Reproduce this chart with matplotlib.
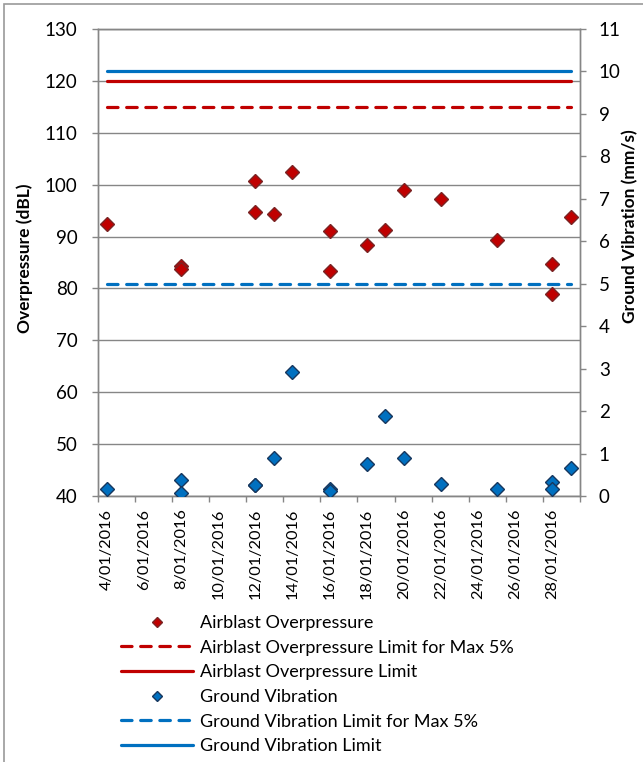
import matplotlib.pyplot as plt
from matplotlib.patches import Rectangle
from matplotlib.ticker import FixedLocator

plt.rcParams['font.family'] = ['Lato', 'DejaVu Sans']

# day of January 2016 for each blast
ab_days = [4, 8, 8, 12, 12, 13, 14, 16, 16, 18, 19, 20, 22, 25, 28, 28, 29]
ab_dbl = [92.5, 84.4, 83.7, 100.7, 94.7, 94.3, 102.4, 91.0, 83.4, 88.4,
          91.3, 99.0, 97.2, 89.3, 84.8, 79.0, 93.7]
gv_days = [4, 8, 8, 12, 12, 13, 14, 16, 16, 18, 19, 20, 22, 25, 28, 28, 29]
gv_mms = [0.16, 0.38, 0.08, 0.27, 0.26, 0.89, 2.93, 0.16, 0.12, 0.75,
          1.88, 0.90, 0.28, 0.17, 0.34, 0.16, 0.66]

limit_days = [4, 29]
ab_limit = [120, 120]
ab_limit5 = [115, 115]
gv_limit = [10, 10]
gv_limit5 = [5, 5]

label_days = list(range(4, 29, 2))
tick_labels = [str(d) + "/01/2016" for d in label_days]

red = '#C00000'
blue = '#0070C0'
grey = '#868686'

fig = plt.figure(figsize=(6.43, 7.62), dpi=100)
ax = fig.add_axes([97.7/643, 1 - 496/762, (580 - 97.7)/643, (496 - 29)/762])
ax2 = ax.twinx()

dash = (3.3, 2.7)
l1, = ax.plot(ab_days, ab_dbl, 'D', ms=6.8, mfc=red, mec='#7a2424', mew=1,
              label='Airblast Overpressure', zorder=3)
l2, = ax.plot(limit_days, ab_limit5, color=red, lw=2.3, dashes=dash,
              dash_capstyle='round', label='Airblast Overpressure Limit for Max 5%')
l3, = ax.plot(limit_days, ab_limit, color=red, lw=2.3, solid_capstyle='round',
              label='Airblast Overpressure Limit')
l4, = ax2.plot(gv_days, gv_mms, 'D', ms=6.8, mfc=blue, mec='#17375e', mew=1,
               label='Ground Vibration', zorder=3)
l5, = ax2.plot(limit_days, gv_limit5, color=blue, lw=2.3, dashes=dash,
               dash_capstyle='round', label='Ground Vibration Limit for Max 5%')
l6, = ax2.plot(limit_days, gv_limit, color=blue, lw=2.3, solid_capstyle='round',
               label='Ground Vibration Limit')

ax.set_xlim(3.5, 29.5)
ax.set_ylim(40, 130)
ax2.set_ylim(0, 11)
ax.set_yticks(range(40, 131, 10))
ax2.set_yticks(range(0, 12))

ax.set_xticks(label_days)
ax.set_xticklabels(tick_labels, rotation=90)
ax.xaxis.set_minor_locator(FixedLocator([d + 0.5 for d in range(3, 30, 2)]))
ax.tick_params(axis='x', which='major', length=0, pad=9, labelsize=11.8)
ax.tick_params(axis='x', which='minor', length=4.5, width=1, color=grey,
               direction='out')
ax.tick_params(axis='y', length=4.5, width=1, color=grey, pad=10, labelsize=13.5)
ax2.tick_params(axis='y', length=4.5, width=1, color=grey, pad=9, labelsize=13.5)
for a in (ax, ax2):
    for s in a.spines.values():
        s.set_color(grey)
        s.set_linewidth(1)

ax.grid(axis='y', color=grey, lw=1)
ax.set_axisbelow(True)

fig.text(25/643, 1 - 258/762, 'Overpressure (dBL)', rotation=90, ha='center',
         va='center', fontsize=12.5, fontweight='bold')
fig.text(630/643, 1 - 226/762, 'Ground Vibration (mm/s)', rotation=90,
         ha='center', va='center', fontsize=12.5, fontweight='bold')

fig.legend(handles=[l1, l2, l3, l4, l5, l6], loc='upper left',
           bbox_to_anchor=(121/643, 1 - 615/762), frameon=False, fontsize=13,
           handlelength=4.0, handletextpad=0.4, labelspacing=0.48,
           borderpad=0, borderaxespad=0, markerscale=0.7)

fig.patches.append(Rectangle((4/643, -0.1), 2, 1 - 4/762 + 0.1,
                             transform=fig.transFigure, fill=False,
                             edgecolor='#9a9a9a', lw=1.2))

fig.savefig('out.png', dpi=100)
